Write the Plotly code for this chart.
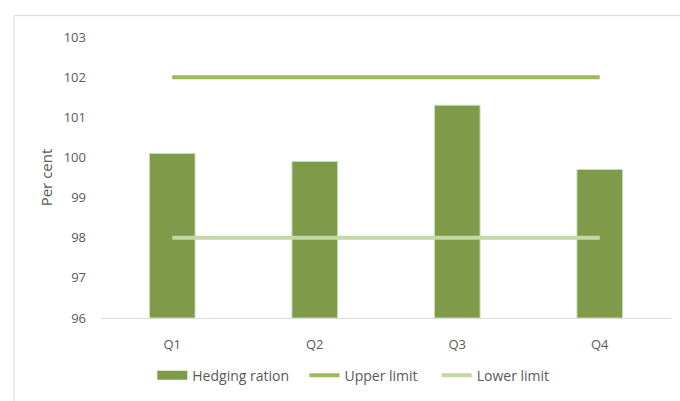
import plotly.graph_objects as go

quarters = ["Q1", "Q2", "Q3", "Q4"]
hedging_ratio = [100.1, 99.9, 101.3, 99.7]
upper_limit = [102, 102, 102, 102]
lower_limit = [98, 98, 98, 98]
y_ticks = [96, 97, 98, 99, 100, 101, 102, 103]
axis_floor = 96

font_family = "Open Sans, Liberation Sans, sans-serif"
text_color = "#595959"
bar_color = "#7f9a48"
frame_color = "#d9d9d9"

fig = go.Figure()
fig.add_trace(go.Bar(
    x=quarters, y=[v - axis_floor for v in hedging_ratio], base=axis_floor,
    name="Hedging ration", showlegend=False,
    marker=dict(color=bar_color, line=dict(color="#c5e0b4", width=1)),
    width=0.32,
))
# wide rectangular legend key for the bars
fig.add_trace(go.Scatter(
    x=[None], y=[None], name="Hedging ration", mode="lines",
    line=dict(color=bar_color, width=9), legend="legend",
))
fig.add_trace(go.Scatter(
    x=quarters, y=upper_limit, name="Upper limit", mode="lines",
    line=dict(color="#9bbb59", width=4), legend="legend2",
))
fig.add_trace(go.Scatter(
    x=quarters, y=lower_limit, name="Lower limit", mode="lines",
    line=dict(color="#c4d7a4", width=4), legend="legend3",
))

# chart frame: left and top edges drawn as one open path in pixel-anchored paper space
frame_path = "M -0.1526,-0.30 L -0.1526,1.0762 L 1.02,1.0762"
frame = [
    dict(type="path", xref="paper", yref="paper", path=frame_path,
         line=dict(color=frame_color, width=1), fillcolor="rgba(0,0,0,0)"),
]

legend_style = dict(
    orientation="h", xanchor="left", y=-0.205, yanchor="middle",
    font=dict(size=14, color=text_color), itemwidth=30,
    bgcolor="rgba(0,0,0,0)",
)

fig.update_layout(
    width=680, height=401,
    margin=dict(l=101, r=9, t=37, b=79),
    paper_bgcolor="white", plot_bgcolor="white",
    font=dict(family=font_family, size=13, color=text_color),
    showlegend=True,
    legend=dict(x=0.09, **legend_style),
    legend2=dict(x=0.357, **legend_style),
    legend3=dict(x=0.589, **legend_style),
    shapes=frame,
)
fig.update_xaxes(
    showline=True, linecolor=frame_color, linewidth=1,
    showgrid=False, ticks="", ticklabelstandoff=14,
    tickfont=dict(size=13, color=text_color),
)
fig.update_yaxes(
    range=[96, 103], tickvals=y_ticks, showgrid=False, zeroline=False,
    showline=False, ticks="", ticklabelstandoff=14,
    tickfont=dict(size=13, color=text_color),
    title=dict(text="Per cent", font=dict(size=15, color=text_color), standoff=7),
)

fig.write_html("out.html")
